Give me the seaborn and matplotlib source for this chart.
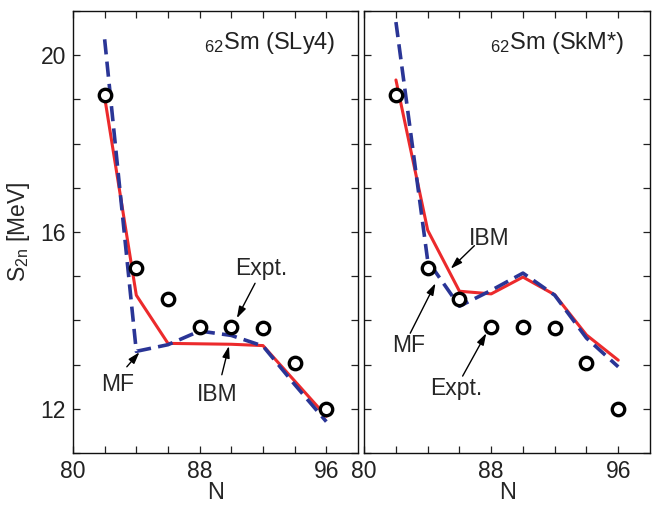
import matplotlib
matplotlib.use("Agg")
import matplotlib.pyplot as plt
import seaborn as sns
import pandas as pd

# ---------------- data ----------------
N = [82, 84, 86, 88, 90, 92, 94, 96]
expt = [19.10, 15.18, 14.48, 13.85, 13.85, 13.82, 13.04, 12.00]

sly4_ibm = [19.05, 14.57, 13.48, 13.47, 13.46, 13.43, 12.63, 11.83]
sly4_mf = [20.36, 13.30, 13.45, 13.76, 13.66, 13.42, 12.55, 11.71]

skm_ibm = [19.44, 16.04, 14.66, 14.60, 14.98, 14.58, 13.67, 13.10]
skm_mf = [20.75, 15.35, 14.32, 14.68, 15.07, 14.57, 13.60, 12.95]

panel_titles = ["$_{62}$Sm (SLy4)", "$_{62}$Sm (SkM*)"]
x_ticklabels = [80, 88, 96]
y_ticklabels = [12, 16, 20]

# ---------------- style ----------------
sns.set_style("ticks")
plt.rcParams["font.family"] = ["Liberation Sans", "DejaVu Sans"]
plt.rcParams["mathtext.default"] = "regular"

RED = "#ec2a2c"
BLUE = "#2a3596"

fig = plt.figure(figsize=(6.67, 5.08), dpi=100)
axL = fig.add_axes([0.1094, 0.1083, 0.4273, 0.8700])
axR = fig.add_axes([0.5460, 0.1083, 0.4285, 0.8700])

panels = [
    (axL, sly4_ibm, sly4_mf, panel_titles[0], 0.922),
    (axR, skm_ibm, skm_mf, panel_titles[1], 0.908),
]

for ax, ibm, mf, title, tx in panels:
    df = pd.DataFrame({"N": N, "expt": expt, "ibm": ibm, "mf": mf})
    sns.lineplot(data=df, x="N", y="ibm", ax=ax, color=RED, lw=2.2, zorder=3)
    sns.lineplot(data=df, x="N", y="mf", ax=ax, color=BLUE, lw=2.6, zorder=4,
                 linestyle=(0, (4.2, 2.0)))
    sns.scatterplot(data=df, x="N", y="expt", ax=ax, marker="o", s=80,
                    facecolor="white", edgecolor="black", linewidth=2.4, zorder=5)
    ax.set_xlim(80, 98)
    ax.set_ylim(11, 21)
    ax.set_xticks(list(range(80, 98, 2)))
    ax.set_xticklabels([str(v) if v in x_ticklabels else "" for v in range(80, 98, 2)])
    ax.set_yticks(list(range(11, 22)))
    ax.tick_params(direction="in", top=True, right=True, left=True, bottom=True,
                   length=5, width=0.9, labelsize=16.5, pad=5, colors="#222222")
    for s in ax.spines.values():
        s.set_linewidth(1.0)
        s.set_color("#111111")
    ax.set_xlabel("N", fontsize=17, labelpad=-1)
    ax.text(tx, 0.928, title, transform=ax.transAxes, ha="right", va="center",
            fontsize=17, color="#222222")

axL.set_yticklabels([str(v) if v in y_ticklabels else "" for v in range(11, 22)])
axL.set_ylabel("S$_{2n}$ [MeV]", fontsize=16.5, labelpad=6)
axR.set_yticklabels([])
axR.set_ylabel("")

arrow = dict(arrowstyle="-|>,head_length=0.7,head_width=0.22", color="black",
             lw=1.0, mutation_scale=10, shrinkA=0, shrinkB=0)
fs = 16.5

# left panel annotations
axL.annotate("", xy=(90.35, 14.05), xytext=(91.5, 14.84), arrowprops=arrow, zorder=6)
axL.text(91.9, 15.18, "Expt.", ha="center", va="center", fontsize=fs)
axL.annotate("", xy=(84.2, 13.28), xytext=(83.4, 12.95), arrowprops=arrow, zorder=6)
axL.text(82.85, 12.54, "MF", ha="center", va="center", fontsize=fs)
axL.annotate("", xy=(89.85, 13.42), xytext=(89.4, 12.77), arrowprops=arrow, zorder=6)
axL.text(89.1, 12.32, "IBM", ha="center", va="center", fontsize=fs)

# right panel annotations
axR.annotate("", xy=(85.45, 15.17), xytext=(86.94, 15.69), arrowprops=arrow, zorder=6)
axR.text(87.9, 15.85, "IBM", ha="center", va="center", fontsize=fs)
axR.annotate("", xy=(84.49, 14.84), xytext=(82.9, 13.71), arrowprops=arrow, zorder=6)
axR.text(82.78, 13.44, "MF", ha="center", va="center", fontsize=fs)
axR.annotate("", xy=(87.69, 13.71), xytext=(86.2, 12.74), arrowprops=arrow, zorder=6)
axR.text(85.77, 12.47, "Expt.", ha="center", va="center", fontsize=fs)

fig.savefig("out.png", dpi=100)
